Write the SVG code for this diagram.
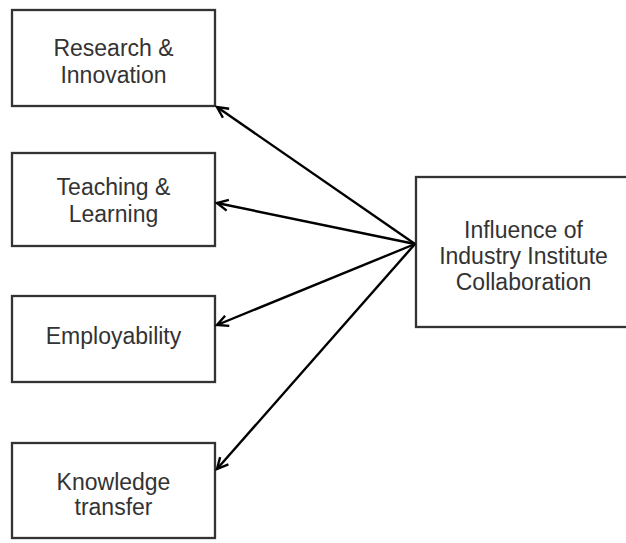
<svg xmlns="http://www.w3.org/2000/svg" width="626" height="543" viewBox="0 0 626 543">
<style>
.box{fill:#fff;stroke:#333;stroke-width:2.3}
.lbl{font-family:"Liberation Sans",Arial,sans-serif;font-size:23px;fill:#333;text-anchor:middle}
.conn{stroke:#000;stroke-width:2.4;fill:none;marker-end:url(#ah)}
</style>
<defs>
<marker id="ah" markerUnits="userSpaceOnUse" viewBox="-13 -8 16 16" refX="0" refY="0" markerWidth="16" markerHeight="16" orient="auto">
<path d="M-11,-5.5 L0,0 L-11,5.5" fill="none" stroke="#000" stroke-width="2.4"/>
</marker>
</defs>
<rect width="626" height="543" fill="#fff"/>
<g id="n1"><rect class="box" x="12" y="10" width="203" height="96"/>
<text class="lbl" x="113.5" y="56">Research &amp;</text><text class="lbl" x="113.5" y="83">Innovation</text></g>
<g id="n2"><rect class="box" x="12" y="153" width="203" height="93"/>
<text class="lbl" x="113.5" y="195">Teaching &amp;</text><text class="lbl" x="113.5" y="222">Learning</text></g>
<g id="n3"><rect class="box" x="12" y="296" width="203" height="86"/>
<text class="lbl" x="113.5" y="344">Employability</text></g>
<g id="n4"><rect class="box" x="12" y="443" width="203" height="95"/>
<text class="lbl" x="113.5" y="490">Knowledge</text><text class="lbl" x="113.5" y="515">transfer</text></g>
<g id="n5"><rect class="box" x="416" y="177" width="216" height="150"/>
<text class="lbl" x="523.5" y="238">Influence of</text><text class="lbl" x="523.5" y="264">Industry Institute</text><text class="lbl" x="523.5" y="290">Collaboration</text></g>
<g id="connectors">
<line class="conn" x1="415" y1="244" x2="217" y2="107"/>
<line class="conn" x1="415" y1="244" x2="217" y2="203"/>
<line class="conn" x1="415" y1="244" x2="217" y2="325"/>
<line class="conn" x1="415" y1="244" x2="217" y2="469"/>
</g>
</svg>
